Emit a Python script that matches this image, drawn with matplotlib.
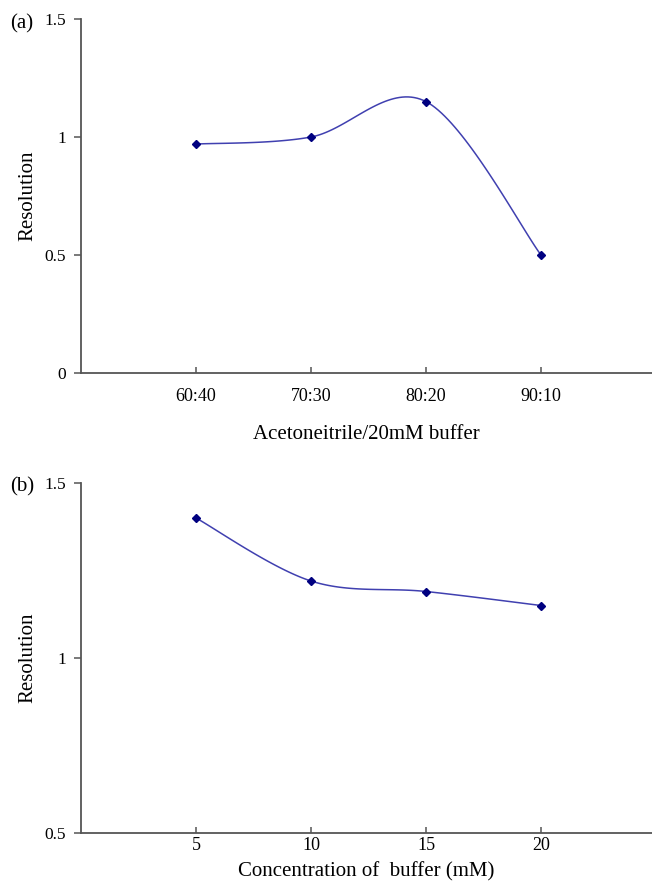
import numpy as np
import matplotlib
matplotlib.use("Agg")
import matplotlib.pyplot as plt

plt.rcParams['font.family'] = ['Liberation Serif', 'DejaVu Serif']

# Panel (a)
cats_a = ["60:40", "70:30", "80:20", "90:10"]
res_a = [0.97, 1.00, 1.15, 0.50]
# Panel (b)
conc_b = [5, 10, 15, 20]
res_b = [1.40, 1.22, 1.19, 1.15]

LINE_C = "#4040B0"
MARK_C = "#000080"
AX_C = "#555555"


def excel_smooth(x, y, n=40):
    x = np.asarray(x, float)
    y = np.asarray(y, float)
    P = np.column_stack([x, y])
    m = len(P)
    out = []
    for i in range(m - 1):
        p0 = P[i - 1] if i > 0 else P[i]
        p1 = P[i]
        p2 = P[i + 1]
        p3 = P[i + 2] if i + 2 < m else P[i + 1]
        c1 = p1 + (p2 - p0) / 6.0
        c2 = p2 - (p3 - p1) / 6.0
        t = np.linspace(0, 1, n)[:, None]
        seg = ((1 - t) ** 3) * p1 + 3 * ((1 - t) ** 2) * t * c1 + 3 * (1 - t) * t ** 2 * c2 + t ** 3 * p2
        out.append(seg if i == 0 else seg[1:])
    c = np.vstack(out)
    return c[:, 0], c[:, 1]


fig = plt.figure(figsize=(6.52, 8.83), dpi=100)

W, H = 652.0, 883.0
def axrect(left, top, right, bottom):
    return [left / W, 1 - bottom / H, (right - left) / W, (bottom - top) / H]

ax1 = fig.add_axes(axrect(81, 19, 652, 373))
ax2 = fig.add_axes(axrect(81, 483, 652, 833))

for ax in (ax1, ax2):
    for s in ("top", "right"):
        ax.spines[s].set_visible(False)
    for s in ("left", "bottom"):
        ax.spines[s].set_color(AX_C)
        ax.spines[s].set_linewidth(1.3)
    ax.tick_params(axis='x', direction='in', length=4.5, width=1.1, color=AX_C, labelsize=13)
    ax.tick_params(axis='y', direction='out', length=5, width=1.1, color=AX_C, labelsize=12.5, pad=6)
    ax.set_ylabel("Resolution", fontsize=15, labelpad=5)

# Panel (a)
xa = np.arange(1, len(cats_a) + 1)
sx, sy = excel_smooth(xa, res_a)
ax1.plot(sx, sy, color=LINE_C, lw=1.1)
ax1.plot(xa, res_a, linestyle='none', marker='D', ms=4, color=MARK_C)
ax1.set_xlim(0, 571 / 115)
ax1.set_ylim(0, 1.5)
ax1.set_xticks(xa)
ax1.set_xticklabels(cats_a)
ax1.set_yticks([0, 0.5, 1, 1.5])
ax1.set_yticklabels(["0", "0.5", "1", "1.5"])
ax1.tick_params(axis='x', pad=11)
ax1.set_xlabel("Acetoneitrile/20mM buffer", fontsize=15, labelpad=14)

# Panel (b)
sx, sy = excel_smooth(conc_b, res_b)
ax2.plot(sx, sy, color=LINE_C, lw=1.1)
ax2.plot(conc_b, res_b, linestyle='none', marker='D', ms=4, color=MARK_C)
ax2.set_xlim(0, 571 / 115 * 5)
ax2.set_ylim(0.5, 1.5)
ax2.set_xticks(conc_b)
ax2.set_xticklabels([str(v) for v in conc_b])
ax2.set_yticks([0.5, 1, 1.5])
ax2.set_yticklabels(["0.5", "1", "1.5"])
ax2.tick_params(axis='x', pad=3)
ax2.set_xlabel("Concentration of  buffer (mM)", fontsize=15, labelpad=6)

fig.text(10 / W, 1 - 24 / H, "(a)", fontsize=15, ha='left', va='center')
fig.text(10 / W, 1 - 487 / H, "(b)", fontsize=15, ha='left', va='center')

fig.savefig("out.png", dpi=100)
